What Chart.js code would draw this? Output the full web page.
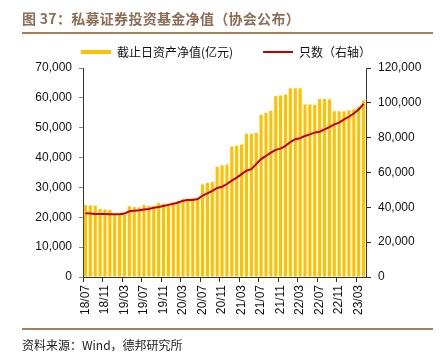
<!DOCTYPE html>
<html>
<head>
<meta charset="utf-8">
<script src="https://cdn.jsdelivr.net/npm/chart.js@4"></script>
<style>
html,body{margin:0;padding:0;background:#fff;}
#wrap{position:relative;width:442px;height:362px;overflow:hidden;}
#c{position:absolute;left:0;top:0;}
#title{position:absolute;left:22px;top:8px;font:bold 14px 'Noto Sans CJK SC','Liberation Sans',sans-serif;color:#8C6E55;white-space:nowrap;letter-spacing:0.3px;}
.rule{position:absolute;left:22px;width:411px;height:2px;background:#A2805F;}
#src{position:absolute;left:22px;top:336px;font:12px 'Noto Sans CJK SC','Liberation Sans',sans-serif;color:#222;white-space:nowrap;}
</style>
</head>
<body>
<div id="wrap">
<canvas id="c" width="442" height="362"></canvas>
<div id="title">图 37：私募证券投资基金净值（协会公布）</div>
<div class="rule" style="top:32px"></div>
<div class="rule" style="top:328px"></div>
<div id="src">资料来源：Wind，德邦研究所</div>
</div>
<script>
const categories = ['18/07','18/08','18/09','18/10','18/11','18/12',
 '19/01','19/02','19/03','19/04','19/05','19/06','19/07','19/08','19/09','19/10','19/11','19/12',
 '20/01','20/02','20/03','20/04','20/05','20/06','20/07','20/08','20/09','20/10','20/11','20/12',
 '21/01','21/02','21/03','21/04','21/05','21/06','21/07','21/08','21/09','21/10','21/11','21/12',
 '22/01','22/02','22/03','22/04','22/05','22/06','22/07','22/08','22/09','22/10','22/11','22/12',
 '23/01','23/02','23/03','23/04'];
const navValues = [24100,24000,23900,22800,22600,22500,
 20900,20900,20900,23700,23400,23300,24100,23800,23700,24800,24500,24500,
 25000,25400,26000,26200,26400,26400,31000,31500,31800,36900,37400,37700,
 43700,44000,44400,48000,48000,48300,54300,55000,55700,60600,60800,61100,
 63200,63200,63200,57800,57800,57700,59600,59600,59500,55500,55500,55500,
 55800,56200,57000,59100];
const countValues = [36600,36400,36200,36200,36200,36000,
 36000,36000,36400,37700,38100,38300,38700,39100,39700,40200,40800,41400,
 42000,42800,43800,44200,44200,44800,46700,48000,49500,51100,51800,53400,
 55300,57100,59100,61000,61900,64800,67700,69500,71400,73000,73700,75300,
 77500,79100,79700,81000,81900,82900,83400,84800,86100,87600,88600,90500,
 92000,93900,96200,99400];
const seriesNames = ['截止日资产净值(亿元)','只数（右轴）'];
const leftTicks = [0,10000,20000,30000,40000,50000,60000,70000];
const rightTicks = [0,20000,40000,60000,80000,100000,120000];

const tickFont = {family:"'Liberation Sans', Arial, sans-serif", size:12};
const fmt = v => Number(v).toLocaleString('en-US');

new Chart(document.getElementById('c'), {
  type:'bar',
  data:{
    labels:categories,
    datasets:[
      {label:seriesNames[0], data:navValues, yAxisID:'y', backgroundColor:'#FFC000', borderWidth:0,
       barPercentage:0.65, categoryPercentage:1, order:1},
      {type:'line', label:seriesNames[1], data:countValues, yAxisID:'y1', borderColor:'#C00000', backgroundColor:'#C00000',
       borderWidth:2, pointRadius:0, tension:0, order:0}
    ]
  },
  options:{
    responsive:false, animation:false,
    layout:{padding:{left:10,right:0,top:16,bottom:0}},
    plugins:{
      tooltip:{enabled:false},
      legend:{
        position:'top',
        labels:{
          usePointStyle:true, pointStyleWidth:30, boxHeight:4, padding:30, color:'#111',
          font:{family:"'Noto Sans CJK SC', sans-serif", size:12},
          sort:(a,b)=>a.datasetIndex-b.datasetIndex,
          generateLabels:(chart)=>{
            const items = Chart.defaults.plugins.legend.labels.generateLabels(chart);
            items.forEach(it=>{
              if(it.datasetIndex===0){it.pointStyle='rect';it.lineWidth=0;it.fillStyle='#FFC000';it.strokeStyle='#FFC000';}
              else {it.pointStyle='line';it.lineWidth=2;it.strokeStyle='#C00000';}
            });
            return items;
          }
        }
      }
    },
    scales:{
      x:{
        offset:true,
        grid:{display:true, drawOnChartArea:false, offset:true, tickLength:5,
              tickColor:(ctx)=> (ctx.index % 4 === 0) ? '#333' : 'rgba(0,0,0,0)'},
        border:{color:'#333', width:1},
        ticks:{autoSkip:false, minRotation:90, maxRotation:90, padding:3, color:'#111', font:tickFont,
               callback:(v,i)=> i % 4 === 0 ? categories[i] : ''},
        afterFit:(s)=>{ s.height = 85; }
      },
      y:{
        position:'left', min:0, max:70000,
        afterBuildTicks:(s)=>{ s.ticks = leftTicks.map(v=>({value:v})); },
        grid:{display:true, drawOnChartArea:false, tickLength:4, tickColor:'#888'},
        border:{color:'#333', width:1},
        ticks:{padding:7, color:'#111', font:tickFont, callback:fmt},
        afterFit:(s)=>{ s.width = 73; }
      },
      y1:{
        position:'right', min:0, max:120000,
        afterBuildTicks:(s)=>{ s.ticks = rightTicks.map(v=>({value:v})); },
        grid:{display:true, drawOnChartArea:false, tickLength:5, tickColor:'#333'},
        border:{color:'#333', width:1},
        ticks:{padding:7, color:'#111', font:tickFont, callback:fmt},
        afterFit:(s)=>{ s.width = 76; }
      }
    }
  }
});
</script>
</body>
</html>
